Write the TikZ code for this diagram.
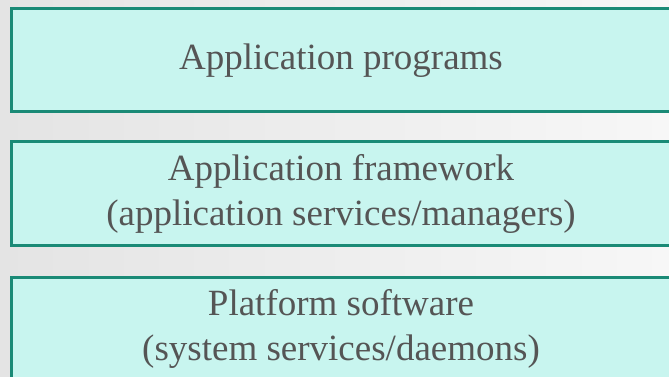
\documentclass[tikz,border=0pt]{standalone}
\usepackage{fontspec}
\setmainfont{Liberation Serif}
\usepackage{xcolor}
\usepackage{tikz}
\usetikzlibrary{positioning}
\definecolor{layerfill}{RGB}{200, 245, 239}
\definecolor{layerline}{RGB}{26, 138, 118}
\definecolor{layertext}{RGB}{85, 85, 85}
\definecolor{bgleft}{RGB}{228, 228, 228}
\definecolor{bgright}{RGB}{247, 247, 247}

\begin{document}
\begin{tikzpicture}[
    x=1pt, y=-1pt,
    node distance=30pt,
    layer/.style={draw=layerline, line width=3pt, fill=layerfill, outer sep=0pt,
        minimum width=660pt, minimum height=103pt, align=center, text=layertext,
        font=\fontsize{37}{45}\selectfont}
]
    \useasboundingbox (0,0) rectangle (669,377);
    \clip (0,0) rectangle (669,377);
    \shade[left color=bgleft, right color=bgright] (0,0) rectangle (669,377);

    \node[layer, anchor=north west] (programs) at (11,9) {Application programs};
    \node[layer, below=of programs] (framework) {Application framework\\(application services/managers)};
    \node[layer, below=32pt of framework] (platform) {Platform software\\(system services/daemons)};
\end{tikzpicture}
\end{document}
